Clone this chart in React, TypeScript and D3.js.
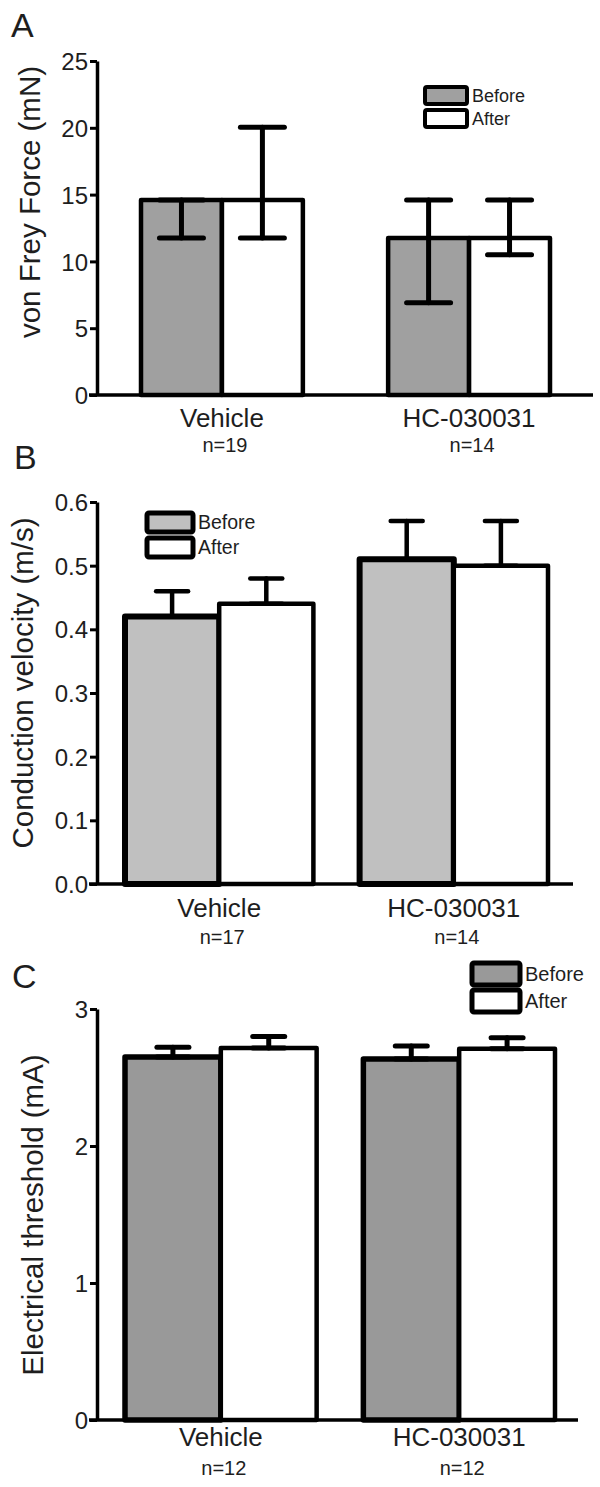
import * as d3 from 'd3';
import React, { useEffect, useRef } from 'react';

const categories = ['Vehicle', 'HC-030031'];
const series = ['Before', 'After'];

// A: von Frey force
const aCounts = ['n=19', 'n=14'];
const aBefore = [14.6, 11.75];
const aAfter = [14.6, 11.75];
const aBeforeLow = [11.75, 6.9];
const aBeforeHigh = [14.6, 14.6];
const aAfterLow = [11.75, 10.5];
const aAfterHigh = [20.05, 14.6];
const aTicks = [0, 5, 10, 15, 20, 25];

// B: conduction velocity
const bCounts = ['n=17', 'n=14'];
const bBefore = [0.42, 0.51];
const bAfter = [0.44, 0.5];
const bBeforeHigh = [0.46, 0.57];
const bAfterHigh = [0.48, 0.57];
const bTicks = [0, 0.1, 0.2, 0.3, 0.4, 0.5, 0.6];

// C: electrical threshold
const cCounts = ['n=12', 'n=12'];
const cBefore = [2.65, 2.635];
const cAfter = [2.715, 2.71];
const cBeforeHigh = [2.72, 2.73];
const cAfterHigh = [2.8, 2.79];
const cTicks = [0, 1, 2, 3];

const FONT = '"Liberation Sans", Arial, Helvetica, sans-serif';
const INK = '#1e1e1e';

const panels = [
  {
    letter: 'A', letterPos: [11, 37],
    title: 'von Frey Force (mN)', titleX: 40, titleY: 202,
    domain: [0, 25], yRange: [395, 61], ticks: aTicks, fmt: d3.format('d'),
    xRange: [141, 550], padInner: 0.345, axisEnd: 593,
    fill: '#a0a0a0', strokeBefore: 4.5, strokeAfter: 4.5,
    cap: 22, errWidth: 5,
    before: aBefore, after: aAfter,
    beforeLow: aBeforeLow, beforeHigh: aBeforeHigh,
    afterLow: aAfterLow, afterHigh: aAfterHigh,
    counts: aCounts, catY: 427, nY: 452,
    legend: { x: 425, y: 87, w: 42, h: 17, gap: 23, size: 18, stroke: 4 },
  },
  {
    letter: 'B', letterPos: [14, 469],
    title: 'Conduction velocity (m/s)', titleX: 33, titleY: 683,
    domain: [0, 0.6], yRange: [884, 502], ticks: bTicks, fmt: d3.format('.1f'),
    xRange: [125, 548], padInner: 0.197, axisEnd: 573,
    fill: '#c0c0c0', strokeBefore: 6, strokeAfter: 4.5,
    cap: 16, errWidth: 4.5,
    before: bBefore, after: bAfter,
    beforeLow: bBefore, beforeHigh: bBeforeHigh,
    afterLow: bAfter, afterHigh: bAfterHigh,
    counts: bCounts, catY: 917, nY: 944,
    legend: { x: 147, y: 513, w: 46, h: 19, gap: 25, size: 19.5, stroke: 5 },
  },
  {
    letter: 'C', letterPos: [12, 988],
    title: 'Electrical threshold (mA)', titleX: 43, titleY: 1215,
    domain: [0, 3], yRange: [1420, 1009], ticks: cTicks, fmt: d3.format('d'),
    xRange: [125, 555], padInner: 0.196, axisEnd: 578,
    fill: '#999999', strokeBefore: 5.5, strokeAfter: 4.5,
    cap: 16, errWidth: 5,
    before: cBefore, after: cAfter,
    beforeLow: cBefore, beforeHigh: cBeforeHigh,
    afterLow: cAfter, afterHigh: cAfterHigh,
    counts: cCounts, catY: 1446, nY: 1475,
    legend: { x: 472, y: 963, w: 48, h: 22, gap: 27, size: 20, stroke: 5 },
  },
];

const drawPanel = (svg, p) => {
  const axisX = 97;
  const y = d3.scaleLinear().domain(p.domain).range(p.yRange);
  const x0 = d3.scaleBand().domain(categories).range(p.xRange)
    .paddingInner(p.padInner).paddingOuter(0);
  const x1 = d3.scaleBand().domain(series).range([0, x0.bandwidth()]);

  const g = svg.append('g');

  // panel letter
  g.append('text')
    .attr('x', p.letterPos[0]).attr('y', p.letterPos[1])
    .attr('font-size', 34).attr('fill', INK)
    .text(p.letter);

  // y title
  g.append('text')
    .attr('transform', `translate(${p.titleX},${p.titleY}) rotate(-90)`)
    .attr('text-anchor', 'middle')
    .attr('font-size', 29.5).attr('fill', INK)
    .text(p.title);

  // bars
  categories.forEach((cat, i) => {
    const rows = [
      { s: 'Before', v: p.before[i], lo: p.beforeLow[i], hi: p.beforeHigh[i], fill: p.fill, sw: p.strokeBefore },
      { s: 'After', v: p.after[i], lo: p.afterLow[i], hi: p.afterHigh[i], fill: '#ffffff', sw: p.strokeAfter },
    ];
    rows.forEach(r => {
      g.append('rect')
        .attr('x', x0(cat) + x1(r.s))
        .attr('y', y(r.v))
        .attr('width', x1.bandwidth())
        .attr('height', y(0) - y(r.v))
        .attr('fill', r.fill)
        .attr('stroke', '#000')
        .attr('stroke-width', r.sw)
        .attr('stroke-linejoin', 'round');
    });
    rows.forEach(r => {
      const cx = x0(cat) + x1(r.s) + x1.bandwidth() / 2;
      const eb = g.append('g').attr('stroke', '#000')
        .attr('stroke-width', p.errWidth).attr('stroke-linecap', 'round');
      eb.append('line').attr('x1', cx).attr('x2', cx).attr('y1', y(r.lo)).attr('y2', y(r.hi));
      [r.lo, r.hi].forEach(val => {
        eb.append('line')
          .attr('x1', cx - p.cap).attr('x2', cx + p.cap)
          .attr('y1', y(val)).attr('y2', y(val));
      });
    });

    const cx = x0(cat) + x0.bandwidth() / 2;
    g.append('text')
      .attr('x', cx).attr('y', p.catY)
      .attr('text-anchor', 'middle').attr('font-size', 26).attr('fill', INK)
      .text(cat);
    g.append('text')
      .attr('x', cx + 3).attr('y', p.nY)
      .attr('text-anchor', 'middle').attr('font-size', 20).attr('fill', INK)
      .text(p.counts[i]);
  });

  // y axis
  const ax = g.append('g')
    .attr('transform', `translate(${axisX},0)`)
    .call(d3.axisLeft(y).tickValues(p.ticks).tickFormat(p.fmt).tickSize(7).tickSizeOuter(0).tickPadding(2));
  ax.select('.domain').attr('stroke', '#000').attr('stroke-width', 3.5);
  ax.selectAll('.tick line').attr('stroke', '#000').attr('stroke-width', 3);
  ax.selectAll('.tick text')
    .attr('font-size', 24).attr('font-family', FONT).attr('fill', INK).attr('dy', '0.36em');

  // x axis baseline
  g.append('line')
    .attr('x1', axisX - 8).attr('x2', p.axisEnd)
    .attr('y1', y(0)).attr('y2', y(0))
    .attr('stroke', '#000').attr('stroke-width', 3.5);

  // legend
  const L = p.legend;
  series.forEach((s, k) => {
    const ly = L.y + k * L.gap;
    g.append('rect')
      .attr('x', L.x).attr('y', ly).attr('width', L.w).attr('height', L.h)
      .attr('rx', 2)
      .attr('fill', k === 0 ? p.fill : '#ffffff')
      .attr('stroke', '#000').attr('stroke-width', L.stroke);
    g.append('text')
      .attr('x', L.x + L.w + 5).attr('y', ly + L.h / 2)
      .attr('dy', '0.35em')
      .attr('font-size', L.size).attr('fill', INK)
      .text(s);
  });
};

const App = () => {
  const ref = useRef(null);

  useEffect(() => {
    const svg = d3.select(ref.current);
    svg.selectAll('*').remove();
    panels.forEach(p => drawPanel(svg, p));
  }, []);

  return (
    <svg
      ref={ref}
      width={600}
      height={1487}
      style={{ position: 'absolute', left: 0, top: 0, background: '#fff', fontFamily: FONT }}
      fontFamily={FONT}
    />
  );
};

export default App;
